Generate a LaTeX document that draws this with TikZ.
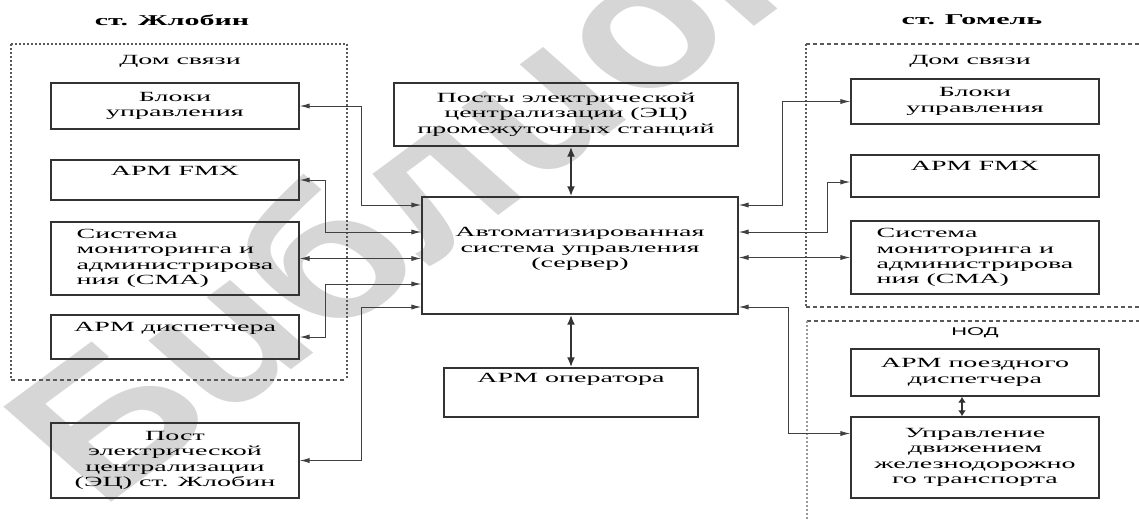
\documentclass[tikz,border=0pt]{standalone}
\usepackage{fontspec}
\setmainfont[FakeStretch=2.0]{Liberation Serif}
\newfontfamily\nodfont[FakeStretch=1.95]{Liberation Sans}
\newfontfamily\wmfont{Liberation Sans}
\usetikzlibrary{arrows.meta}

\begin{document}
\begin{tikzpicture}[x=0.5pt, y=-0.5pt, >={Latex[length=5pt,width=2.6pt]},
  blok/.style={draw=black!80, line width=0.7pt, inner sep=1pt, align=center,
    minimum width=124pt, font=\fontsize{7}{7.65}\selectfont},
  lift/.style={text height=5pt, text depth=#1},
  link/.style={<->, draw=black!75, line width=0.5pt},
  thicklink/.style={{Latex[length=5pt,width=4pt]}-{Latex[length=5pt,width=4pt]}, draw=black!80, line width=1pt},
  dashH/.style={draw=black!65, line width=0.8pt, dash pattern=on 2pt off 1.5pt},
  dotV/.style={draw=black!65, line width=0.9pt, dash pattern=on 1pt off 1pt},
  caption/.style={font=\fontsize{7.5}{8}\selectfont\bfseries},
  plain/.style={font=\fontsize{7}{7.65}\selectfont}]

  \useasboundingbox (0,0) rectangle (1139,520);

  % watermark
  \begin{scope}
    \clip (0,0) rectangle (1139,520);
    \begin{scope}[xscale=1.5]
      \node[anchor=base west, rotate=48, transform shape, inner sep=0, text=black!16,
        font=\wmfont\bfseries\itshape\fontsize{85}{85}\selectfont] (wm) at (72,505) {Библиотека};
    \end{scope}
  \end{scope}

  % Key coordinates of the dashed frames
  \coordinate (fL1) at (11,44);    % Дом связи (Жлобин)
  \coordinate (fL2) at (347,380);
  \coordinate (fR1) at (806,44);   % Дом связи (Гомель)
  \coordinate (fR2) at (1139,307);
  \coordinate (fN1) at (807,321);  % НОД
  \coordinate (fN2) at (1139,520);

  % --- Dashed frames ---
  \draw[dotV] (fL1) -- (fL1 -| fL2) -- (fL2);
  \draw[dotV] (fL1) -- (fL1 |- fL2);
  \draw[dashH] (fL1 |- fL2) -- (fL2);
  \draw[dashH] (fR1) -- (fR1 -| fR2);
  \draw[dotV] (fR1) -- (fR1 |- fR2);
  \draw[dashH] (fR1 |- fR2) -- (fR2);
  \draw[dashH] (fN1) -- (fN1 -| fN2);
  \draw[dotV, draw=black!40] (fN1) -- (fN1 |- fN2);

  % Headings
  \node[caption] (zhl) at (172,20) {ст. Жлобин};
  \node[caption] (gom) at (972,20) {ст. Гомель};
  \node[plain] (domL) at (180,61) {Дом связи};
  \node[plain] (domR) at (970,61) {Дом связи};
  \node[font=\nodfont\fontsize{5.6}{6}\selectfont] (nod) at (975,333) {НОД};

  % --- ст. Жлобин ---
  \node[blok, minimum height=23pt] (blokL) at (175,106) {Блоки\\управления};
  \node[blok, minimum height=20pt, lift=9.5pt] (fmxL) at (175,180) {АРМ FMX};
  \node[blok, minimum height=36.5pt, align=left] (smaL) at (175,258.5)
    {Система\\мониторинга и\\администрирова\\ния (СМА)};
  \node[blok, minimum height=22pt, lift=10.5pt] (dispL) at (175,337) {АРМ диспетчера};
  \node[blok, minimum height=37.5pt] (postL) at (175,460.5)
    {Пост\\электрической\\централизации\\(ЭЦ) ст. Жлобин};

  % --- Centre ---
  \node[blok, minimum width=172pt, minimum height=31.5pt] (ecL) at (566,114.5)
    {Посты электрической\\централизации (ЭЦ)\\промежуточных станций};
  \node[blok, minimum width=158pt, minimum height=58.5pt, text depth=8pt] (server) at (580,255.5)
    {Автоматизированная\\система управления\\(сервер)};
  \node[blok, minimum width=127pt, minimum height=24.5pt, lift=15pt] (oper) at (571,392.5)
    {АРМ оператора};

  % --- ст. Гомель ---
  \node[blok, minimum height=22.5pt] (blokR) at (975,101.5) {Блоки\\управления};
  \node[blok, minimum height=21pt, lift=10.5pt] (fmxR) at (975,176) {АРМ FMX};
  \node[blok, minimum height=36.5pt, align=left] (smaR) at (975,257.5)
    {Система\\мониторинга и\\администрирова\\ния (СМА)};
  \node[blok, minimum height=23.5pt] (arpd) at (975,372.5) {АРМ поездного\\диспетчера};
  \node[blok, minimum height=40.5pt] (udt) at (975,457.5)
    {Управление\\движением\\железнодорожно\\го транспорта};

  % Ports on the server and vertical runs
  \coordinate (inL1) at (server.west |- 0,205);
  \coordinate (inL2) at (server.west |- 0,232);
  \coordinate (inL4) at (server.west |- 0,284);
  \coordinate (inL5) at (server.west |- 0,307);
  \coordinate (inR1) at (server.east |- 0,205);
  \coordinate (inR2) at (server.east |- 0,232);
  \coordinate (inR4) at (server.east |- 0,307);
  \coordinate (busA) at (361,0);
  \coordinate (busB) at (325,0);
  \coordinate (busC) at (782,0);
  \coordinate (busD) at (827,0);
  \coordinate (busE) at (788,0);
  \coordinate (portF) at ([yshift=-3pt]fmxR.west);
  \coordinate (portU) at ([yshift=12pt]udt.west);

  % --- Links, left ---
  \draw[link] (blokL.east) -| (busA |- inL1) -- (inL1);
  \draw[link] (fmxL.east) -| (busB |- inL2) -- (inL2);
  \draw[link] (smaL.east) -- (smaL.east -| server.west);
  \draw[link] (dispL.east) -| (busB |- inL4) -- (inL4);
  \draw[link] (postL.east) -| (busA |- inL5) -- (inL5);

  % --- Links, right ---
  \draw[link] (inR1) -| (busC |- blokR.west) -- (blokR.west);
  \draw[link] (inR2) -| (busD |- portF) -- (portF);
  \draw[link] (smaR.west) -- (smaR.west -| server.east);
  \draw[link] (inR4) -| (busE |- portU) -- (portU);

  % --- Vertical links ---
  \draw[thicklink] (ecL.south -| oper.north) -- (server.north -| oper.north);
  \draw[thicklink] (server.south -| oper.north) -- (oper.north);
  \draw[thicklink, {Latex[length=3pt,width=4pt]}-{Latex[length=3pt,width=4pt]}]
    ([xshift=-6.5pt]arpd.south) -- ([xshift=-6.5pt]udt.north);
\end{tikzpicture}
\end{document}
